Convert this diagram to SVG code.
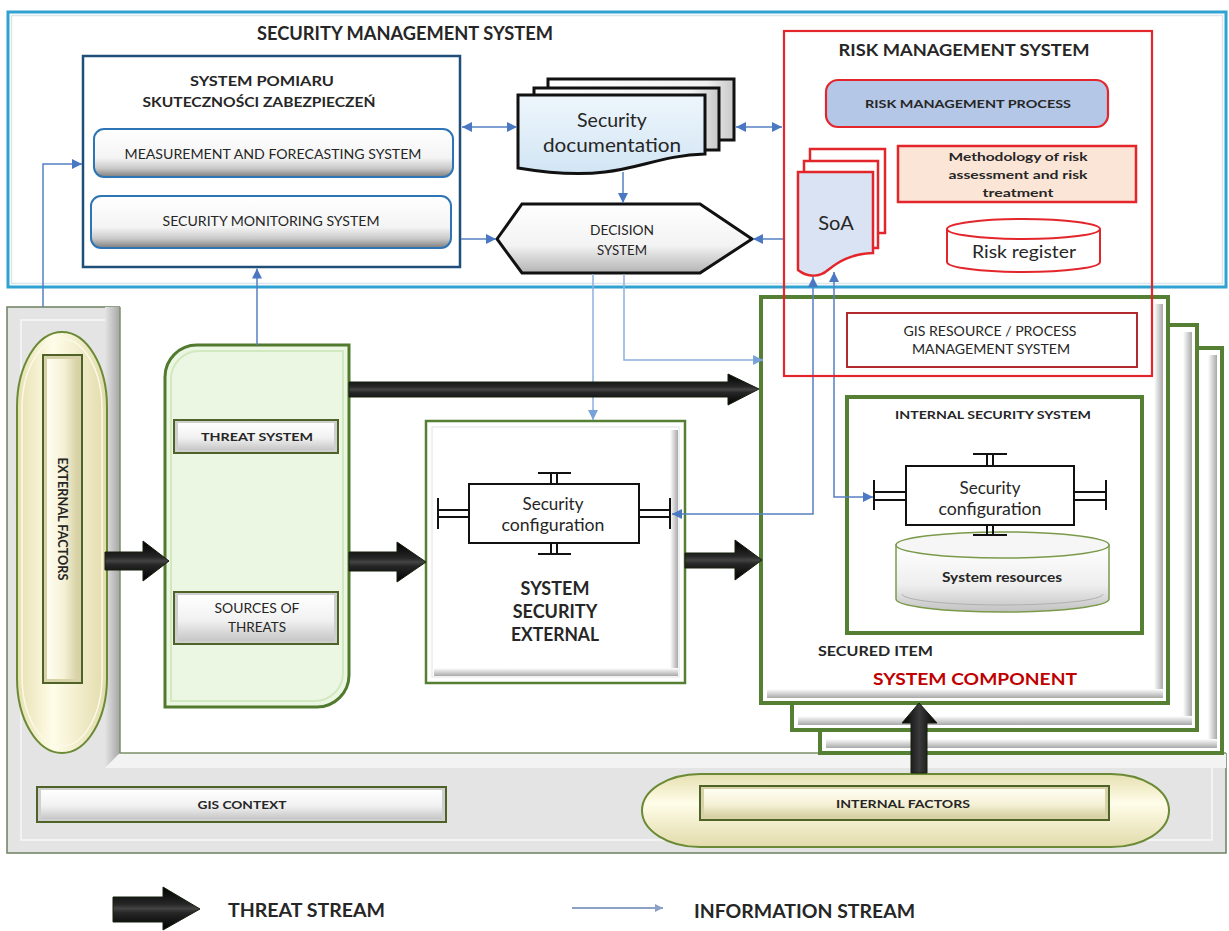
<svg xmlns="http://www.w3.org/2000/svg" width="1229" height="931" viewBox="0 0 1229 931">
<defs>
<style>
text{font-family:Lato,"Open Sans","Liberation Sans",sans-serif;fill:#262626;dominant-baseline:central;text-anchor:middle}
.b{font-weight:bold}
.st{text-anchor:start}
.rd{fill:#c00000}
.info{fill:none;stroke:#5680c2;stroke-width:1.5}
.info2{fill:none;stroke:#8db0df;stroke-width:1.5}
.thick{fill:url(#tg);stroke:#15200c;stroke-width:1}
.thickv{fill:url(#tgv);stroke:#15200c;stroke-width:1}
.redbox{fill:none;stroke:#e3262b;stroke-width:2.2}
.frame{fill:#fff;stroke:#557f33;stroke-width:4}
.blk{fill:#fff;stroke:#111;stroke-width:2}
.btnout{fill:#cfcfcf;stroke:#4f6228;stroke-width:2}
.ybtnout{fill:#d8d2a8;stroke:#4f6228;stroke-width:2}
</style>
<linearGradient id="tg" x1="0" y1="0" x2="0" y2="1">
<stop offset="0" stop-color="#000"/><stop offset="0.4" stop-color="#262626"/><stop offset="0.5" stop-color="#444"/><stop offset="0.6" stop-color="#262626"/><stop offset="1" stop-color="#000"/>
</linearGradient>
<linearGradient id="tgv" x1="0" y1="0" x2="1" y2="0">
<stop offset="0" stop-color="#000"/><stop offset="0.5" stop-color="#3a3a3a"/><stop offset="1" stop-color="#000"/>
</linearGradient>
<linearGradient id="btn" x1="0" y1="0" x2="0" y2="1">
<stop offset="0" stop-color="#ffffff"/><stop offset="0.55" stop-color="#f1f1f1"/><stop offset="1" stop-color="#c6c6c6"/>
</linearGradient>
<linearGradient id="ybtn" x1="0" y1="0" x2="0" y2="1">
<stop offset="0" stop-color="#fffef2"/><stop offset="0.55" stop-color="#f5f1d6"/><stop offset="1" stop-color="#d6d0a2"/>
</linearGradient>
<linearGradient id="ybtnH" x1="0" y1="0" x2="1" y2="0">
<stop offset="0" stop-color="#fffef2"/><stop offset="0.55" stop-color="#f5f1d6"/><stop offset="1" stop-color="#d6d0a2"/>
</linearGradient>
<linearGradient id="capg" x1="0" y1="0" x2="1" y2="0">
<stop offset="0" stop-color="#e6e0b0"/><stop offset="0.4" stop-color="#fffde9"/><stop offset="1" stop-color="#e2dbab"/>
</linearGradient>
<linearGradient id="capgV" x1="0" y1="0" x2="0" y2="1">
<stop offset="0" stop-color="#e6e0b0"/><stop offset="0.4" stop-color="#fffde9"/><stop offset="1" stop-color="#e2dbab"/>
</linearGradient>
<linearGradient id="rb" x1="0" y1="0" x2="0" y2="1">
<stop offset="0" stop-color="#ffffff"/><stop offset="0.6" stop-color="#f4f4f4"/><stop offset="0.82" stop-color="#c9c9c9"/><stop offset="1" stop-color="#7d7d7d"/>
</linearGradient>
<linearGradient id="hexg" x1="0" y1="0" x2="0" y2="1">
<stop offset="0" stop-color="#ffffff"/><stop offset="0.6" stop-color="#f3f3f3"/><stop offset="1" stop-color="#b3b3b3"/>
</linearGradient>
<linearGradient id="docg" x1="0" y1="0" x2="0" y2="1">
<stop offset="0" stop-color="#eef6fc"/><stop offset="1" stop-color="#d2e5f4"/>
</linearGradient>
<linearGradient id="pg" x1="0" y1="0" x2="1" y2="0">
<stop offset="0" stop-color="#ffffff"/><stop offset="0.85" stop-color="#f2f2f2"/><stop offset="1" stop-color="#c8c8c8"/>
</linearGradient>
<linearGradient id="shR" x1="0" y1="0" x2="1" y2="0">
<stop offset="0" stop-color="#ffffff"/><stop offset="1" stop-color="#a9a9a9"/>
</linearGradient>
<linearGradient id="shB" x1="0" y1="0" x2="0" y2="1">
<stop offset="0" stop-color="#ffffff"/><stop offset="1" stop-color="#a9a9a9"/>
</linearGradient>
<linearGradient id="shL" x1="0" y1="0" x2="1" y2="0">
<stop offset="0" stop-color="#e4e4e4"/><stop offset="1" stop-color="#a5a5a5"/>
</linearGradient>
<linearGradient id="cylg" x1="0" y1="0" x2="0" y2="1">
<stop offset="0" stop-color="#ffffff"/><stop offset="0.6" stop-color="#eeeeee"/><stop offset="1" stop-color="#c2c2c2"/>
</linearGradient>
<marker id="ah" viewBox="0 0 10 10" refX="10" refY="5" markerWidth="10" markerHeight="10" markerUnits="userSpaceOnUse" orient="auto-start-reverse">
<path d="M0,0 L10,5 L0,10 Z" fill="#4a78c2"/>
</marker>
<marker id="ah2" viewBox="0 0 10 10" refX="10" refY="5" markerWidth="10" markerHeight="10" markerUnits="userSpaceOnUse" orient="auto-start-reverse">
<path d="M0,0 L10,5 L0,10 Z" fill="#7aa2da"/>
</marker>
<marker id="ahL" viewBox="0 0 10 10" refX="10" refY="5" markerWidth="9" markerHeight="8" markerUnits="userSpaceOnUse" orient="auto">
<path d="M0,0 L10,5 L0,10 Z" fill="#8ca2c4"/>
</marker>
</defs>

<rect x="0" y="0" width="1229" height="931" fill="#fff"/>

<!-- SECURITY MANAGEMENT SYSTEM -->
<g id="security-management-system">
<rect x="8" y="12" width="1218" height="275" fill="#fff" stroke="#2fa2d2" stroke-width="3"/>
<rect x="11.5" y="15.5" width="1211" height="268" fill="none" stroke="#dbe6ec" stroke-width="1.5"/>
<text class="b" x="405" y="33" font-size="18" textLength="296" lengthAdjust="spacingAndGlyphs">SECURITY MANAGEMENT SYSTEM</text>
</g>

<g id="system-pomiaru">
<rect x="83" y="56" width="377" height="211" fill="#fff" stroke="#1f4e79" stroke-width="2.5"/>
<text class="b" x="262" y="80" font-size="14" textLength="144" lengthAdjust="spacingAndGlyphs">SYSTEM POMIARU</text>
<text class="b" x="259" y="101" font-size="14" textLength="233" lengthAdjust="spacingAndGlyphs">SKUTECZNOŚCI ZABEZPIECZEŃ</text>
</g>

<g id="measurement-forecasting-system">
<rect x="94" y="129" width="359" height="48" rx="10" fill="url(#rb)" stroke="#2e75b6" stroke-width="2"/>
<text x="273" y="154" font-size="13" textLength="297" lengthAdjust="spacingAndGlyphs">MEASUREMENT AND FORECASTING SYSTEM</text>
</g>

<g id="security-monitoring-system">
<rect x="91" y="196" width="360" height="52" rx="10" fill="url(#rb)" stroke="#2e75b6" stroke-width="2"/>
<text x="271" y="221" font-size="13" textLength="217" lengthAdjust="spacingAndGlyphs">SECURITY MONITORING SYSTEM</text>
</g>

<g id="security-documentation">
<rect x="548" y="79" width="186" height="61" fill="url(#pg)" stroke="#111" stroke-width="3"/>
<rect x="534" y="88" width="185" height="62" fill="url(#pg)" stroke="#111" stroke-width="3"/>
<path d="M518,95 H705 V154 C665,155 640,168 605,172 C572,176 542,172 518,168 Z" fill="url(#docg)" stroke="#111" stroke-width="3"/>
<text x="612" y="119" font-size="19.5">Security</text>
<text x="612" y="144" font-size="19.5" textLength="138" lengthAdjust="spacingAndGlyphs">documentation</text>
</g>

<g id="decision-system">
<polygon points="497,239 522,204 700,204 752,239 700,273 522,273" fill="url(#hexg)" stroke="#111" stroke-width="3"/>
<text x="622" y="230" font-size="13" textLength="64" lengthAdjust="spacingAndGlyphs">DECISION</text>
<text x="622" y="250" font-size="13" textLength="50" lengthAdjust="spacingAndGlyphs">SYSTEM</text>
</g>

<!-- GIS CONTEXT FRAME -->
<g id="gis-context">
<rect x="7" y="307" width="1219" height="546" fill="#e4e4e4" stroke="#6f8060" stroke-width="1.5"/>
<rect x="21" y="320" width="1191" height="520" fill="none" stroke="#f8f8f8" stroke-width="1.5"/>
<path d="M105,307 H120 V753 L105,768 Z" fill="url(#shL)"/>
<path d="M105,768 L120,753 H1226 V768 Z" fill="#f3f3f3"/>
<rect x="120" y="292" width="1108" height="461" fill="#fff"/>
<path d="M120,307 V753 H1226" fill="none" stroke="#7c8f6a" stroke-width="1.5"/>
</g>

<g id="gis-context-label">
<rect x="37" y="787" width="409" height="35" class="btnout"/>
<rect x="41" y="790" width="401" height="29" fill="url(#btn)"/>
<text class="b" x="242" y="804" font-size="12" textLength="89" lengthAdjust="spacingAndGlyphs">GIS CONTEXT</text>
</g>

<g id="external-factors">
<path d="M17,407 A45,75 0 0 1 107,407 V678 A45,75 0 0 1 17,678 Z" fill="url(#capg)" stroke="#6b8a35" stroke-width="2"/>
<path d="M22,409 A40,70 0 0 1 102,409 V676 A40,70 0 0 1 22,676 Z" fill="none" stroke="#fbfae6" stroke-width="1.5"/>
<rect x="43" y="355" width="39" height="328" class="ybtnout"/>
<rect x="47" y="359" width="31" height="320" fill="url(#ybtnH)"/>
<text class="b" transform="translate(62,519) rotate(90)" font-size="12.5" textLength="123" lengthAdjust="spacingAndGlyphs">EXTERNAL FACTORS</text>
</g>

<g id="threat-area">
<path d="M197,345 H349 V675 A32,32 0 0 1 317,707 H165 V377 A32,32 0 0 1 197,345 Z" fill="#ecf7e3" stroke="#517a2f" stroke-width="3"/>
<path d="M199,351 H343 V673 A28,28 0 0 1 315,701 H171 V379 A28,28 0 0 1 199,351 Z" fill="none" stroke="#d2e8c0" stroke-width="2"/>
</g>

<g id="threat-system">
<rect x="174" y="420" width="164" height="33" class="btnout"/>
<rect x="178" y="423" width="156" height="27" fill="url(#btn)"/>
<text class="b" x="257" y="436" font-size="12" textLength="112" lengthAdjust="spacingAndGlyphs">THREAT SYSTEM</text>
</g>

<g id="sources-of-threats">
<rect x="174" y="592" width="164" height="52" class="btnout"/>
<rect x="178" y="595" width="156" height="46" fill="url(#btn)"/>
<text x="257" y="608" font-size="12.5" textLength="85" lengthAdjust="spacingAndGlyphs">SOURCES OF</text>
<text x="257" y="627" font-size="12.5" textLength="58" lengthAdjust="spacingAndGlyphs">THREATS</text>
</g>

<g id="system-security-external">
<rect x="426" y="421" width="259" height="262" fill="#fff" stroke="#557f33" stroke-width="2.5"/>
<rect x="432" y="427" width="247" height="250" fill="none" stroke="#e2e2e2" stroke-width="1"/>
<rect x="670" y="430" width="8" height="246" fill="url(#shR)"/>
<rect x="434" y="668" width="244" height="8" fill="url(#shB)"/>
<rect x="469" y="484" width="170" height="59" class="blk"/>
<path d="M538,473 H571 M551,473 V484 M557,473 V484 M538,554 H571 M551,543 V554 M557,543 V554 M438,498 V529 M438,510 H469 M438,517 H469 M670,498 V529 M639,510 H670 M639,517 H670" fill="none" stroke="#111" stroke-width="2"/>
<text x="553" y="503" font-size="17">Security</text>
<text x="553" y="524" font-size="17" textLength="103" lengthAdjust="spacingAndGlyphs">configuration</text>
<text class="b" x="555" y="588" font-size="18">SYSTEM</text>
<text class="b" x="555" y="611" font-size="18">SECURITY</text>
<text class="b" x="555" y="634" font-size="18" textLength="88" lengthAdjust="spacingAndGlyphs">EXTERNAL</text>
</g>

<!-- SECURED ITEM (stacked) -->
<g id="secured-item">
<rect x="820" y="348" width="402" height="405" class="frame"/>
<rect x="1208" y="355" width="9" height="393" fill="url(#shR)"/>
<rect x="826" y="739" width="391" height="9" fill="url(#shB)"/>
<rect x="792" y="325" width="405" height="405" class="frame"/>
<rect x="1183" y="332" width="9" height="393" fill="url(#shR)"/>
<rect x="798" y="716" width="394" height="9" fill="url(#shB)"/>
<rect x="761" y="297" width="407" height="406" class="frame"/>
<rect x="1154" y="304" width="9" height="394" fill="url(#shR)"/>
<rect x="767" y="689" width="396" height="9" fill="url(#shB)"/>
<text class="b st" x="818" y="651" font-size="13" textLength="115" lengthAdjust="spacingAndGlyphs">SECURED ITEM</text>
<text class="b rd" x="975" y="678" font-size="17.5" textLength="204" lengthAdjust="spacingAndGlyphs">SYSTEM COMPONENT</text>
</g>

<g id="gis-resource-process-management-system">
<rect x="847" y="313" width="290" height="54" fill="#fff" stroke="#b02a30" stroke-width="2"/>
<text x="990" y="331" font-size="12.5" textLength="173" lengthAdjust="spacingAndGlyphs">GIS RESOURCE / PROCESS</text>
<text x="991" y="349" font-size="12.5" textLength="158" lengthAdjust="spacingAndGlyphs">MANAGEMENT SYSTEM</text>
</g>

<g id="internal-security-system">
<rect x="847" y="397" width="295" height="236" fill="#fff" stroke="#557f33" stroke-width="4"/>
<text class="b" x="993" y="414" font-size="12" textLength="196" lengthAdjust="spacingAndGlyphs">INTERNAL SECURITY SYSTEM</text>
</g>

<g id="system-resources">
<path d="M896,545 V599 A106.5,13 0 0 0 1109,599 V545 Z" fill="url(#cylg)" stroke="#7a9a4a" stroke-width="1.5"/>
<path d="M902,594 A100.5,11 0 0 0 1103,594" fill="none" stroke="#b0b0b0" stroke-width="1"/>
<ellipse cx="1002.5" cy="545" rx="106.5" ry="13" fill="#f6f6f6" stroke="#7a9a4a" stroke-width="1.5"/>
<text class="b" x="1002" y="577" font-size="12.5" textLength="120" lengthAdjust="spacingAndGlyphs">System resources</text>
</g>

<g id="internal-security-configuration">
<rect x="906" y="466" width="168" height="59" class="blk"/>
<path d="M973,454 H1007 M987,454 V466 M993,454 V466 M973,535 H1007 M987,525 V535 M993,525 V535 M874,480 V510 M874,492 H906 M874,500 H906 M1106,480 V510 M1074,492 H1106 M1074,500 H1106" fill="none" stroke="#111" stroke-width="2"/>
<text x="990" y="487" font-size="17">Security</text>
<text x="990" y="508" font-size="17" textLength="103" lengthAdjust="spacingAndGlyphs">configuration</text>
</g>

<g id="internal-factors">
<path d="M700,774 H1111 A58,36.5 0 0 1 1111,847 H700 A58,36.5 0 0 1 700,774 Z" fill="url(#capgV)" stroke="#6b8a35" stroke-width="2"/>
<rect x="700" y="786" width="409" height="34" class="ybtnout"/>
<rect x="704" y="789" width="401" height="28" fill="url(#ybtn)"/>
<text class="b" x="903" y="803" font-size="12" textLength="134" lengthAdjust="spacingAndGlyphs">INTERNAL FACTORS</text>
</g>

<!-- CONNECTORS -->
<g id="connectors">
<path class="info" d="M43,307 V164 H82" marker-end="url(#ah)"/>
<path class="info" d="M257,345 V268.5" marker-end="url(#ah)"/>
<path class="info" d="M462,127 H517" marker-start="url(#ah)" marker-end="url(#ah)"/>
<path class="info" d="M736,127 H782" marker-start="url(#ah)" marker-end="url(#ah)"/>
<path class="info" d="M623,172 V203" marker-end="url(#ah)"/>
<path class="info" d="M461,239 H496" marker-end="url(#ah)"/>
<path class="info" d="M783,239 H753" marker-end="url(#ah)"/>
<path class="info2" d="M593,274 V420" marker-end="url(#ah2)"/>
<path class="info2" d="M624,274 V360 H763" marker-end="url(#ah2)"/>
<path class="info" d="M813,277 V514 H672" marker-start="url(#ah)" marker-end="url(#ah)"/>
<path class="info" d="M834,272 V497 H873" marker-start="url(#ah)" marker-end="url(#ah)"/>
<path class="thick" d="M105,552 H143 V541 L169,561 L143,581 V570 H105 Z"/>
<path class="thick" d="M349,552 H397 V542 L426,562 L397,582 V571 H349 Z"/>
<path class="thick" d="M685,553 H735 V540 L762,560 L735,580 V568 H685 Z"/>
<path class="thick" d="M349,382 H728 V374 L759,389 L728,405 V397 H349 Z"/>
<path class="thickv" d="M911,773 V723 H902 L919,703 L937,723 H927 V773 Z"/>
</g>

<!-- RISK MANAGEMENT SYSTEM -->
<g id="risk-management-system">
<rect x="784" y="31" width="368" height="345" class="redbox"/>
<text class="b" x="964" y="49" font-size="17" textLength="251" lengthAdjust="spacingAndGlyphs">RISK MANAGEMENT SYSTEM</text>
</g>

<g id="risk-management-process">
<rect x="826" y="80" width="282" height="47" rx="12" fill="#b4c7e7" stroke="#e3262b" stroke-width="2.2"/>
<text class="b" x="968" y="103" font-size="12" textLength="206" lengthAdjust="spacingAndGlyphs">RISK MANAGEMENT PROCESS</text>
</g>

<g id="soa">
<rect x="810" y="149" width="75" height="84" fill="#fff" stroke="#e3262b" stroke-width="2.5"/>
<rect x="804" y="161" width="74" height="87" fill="#fff" stroke="#e3262b" stroke-width="2.5"/>
<path d="M798,172 H873 V253 C850,254 838,262 828,270 C820,277 808,278 798,270 Z" fill="#dae3f3" stroke="#e3262b" stroke-width="2.5"/>
<text x="836" y="222" font-size="20">SoA</text>
</g>

<g id="methodology">
<rect x="898" y="146" width="238" height="56" fill="#fbe5d6" stroke="#e3262b" stroke-width="2.5"/>
<text class="b" x="1018" y="156" font-size="12" textLength="139" lengthAdjust="spacingAndGlyphs">Methodology of risk</text>
<text class="b" x="1018" y="174" font-size="12" textLength="139" lengthAdjust="spacingAndGlyphs">assessment and risk</text>
<text class="b" x="1018" y="192" font-size="12" textLength="71" lengthAdjust="spacingAndGlyphs">treatment</text>
</g>

<g id="risk-register">
<path d="M947,229 V262 A76.5,10 0 0 0 1100,262 V229" fill="#fff" stroke="#e3262b" stroke-width="2"/>
<ellipse cx="1023.5" cy="229" rx="76.5" ry="10" fill="#fff" stroke="#e3262b" stroke-width="2"/>
<text x="1024" y="251" font-size="18" textLength="104" lengthAdjust="spacingAndGlyphs">Risk register</text>
</g>

<!-- LEGEND -->
<g id="legend">
<path class="thick" d="M113,897 H163 V887 L200,909 L163,930 V922 H113 Z"/>
<text class="b st" x="228" y="910" font-size="18" textLength="157" lengthAdjust="spacingAndGlyphs">THREAT STREAM</text>
<path d="M572,908 H663" fill="none" stroke="#8ca2c4" stroke-width="2" marker-end="url(#ahL)"/>
<text class="b st" x="694" y="911" font-size="18" textLength="221" lengthAdjust="spacingAndGlyphs">INFORMATION STREAM</text>
</g>
</svg>
